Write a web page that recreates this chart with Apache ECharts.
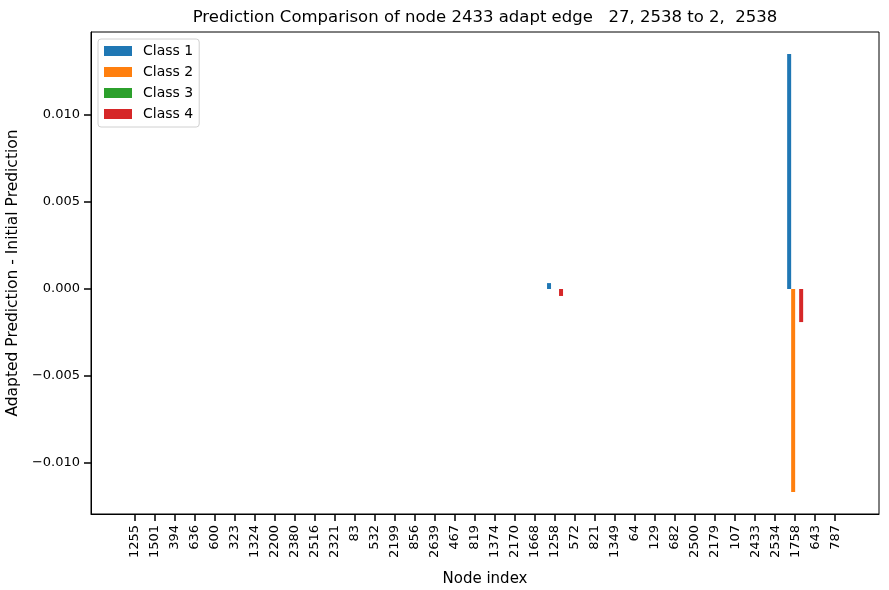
<!DOCTYPE html>
<html>
<head>
<meta charset="utf-8">
<script src="https://cdn.jsdelivr.net/npm/echarts@6/dist/echarts.min.js"></script>
<style>
  html, body { margin: 0; padding: 0; background: #fff; }
  #chart { width: 889px; height: 590px; }
</style>
</head>
<body>
<div id="chart"></div>
<script>
var nodes = ['1255','1501','394','636','600','323','1324','2200','2380','2516','2321','83','532','2199','856','2639','467','819','1374','2170','1668','1258','572','821','1349','64','129','682','2500','2179','107','2433','2534','1758','643','787'];

// only two nodes move, all others are zero
var class1 = [0,0,0,0,0,0,0,0,0,0,0,0,0,0,0,0,0,0,0,0,0,0.00034,0,0,0,0,0,0,0,0,0,0,0,0.01351,0,0];
var class2 = [0,0,0,0,0,0,0,0,0,0,0,0,0,0,0,0,0,0,0,0,0,0,0,0,0,0,0,0,0,0,0,0,0,-0.01167,0,0];
var class3 = [0,0,0,0,0,0,0,0,0,0,0,0,0,0,0,0,0,0,0,0,0,0,0,0,0,0,0,0,0,0,0,0,0,0,0,0];
var class4 = [0,0,0,0,0,0,0,0,0,0,0,0,0,0,0,0,0,0,0,0,0,-0.0004,0,0,0,0,0,0,0,0,0,0,0,-0.0019,0,0];

var yTicks = [-0.01, -0.005, 0, 0.005, 0.01];
var names = ['Class 1','Class 2','Class 3','Class 4'];
var colors = ['#1f77b4','#ff7f0e','#2ca02c','#d62728'];
var offsets = [-0.3, -0.1, 0.1, 0.3];
var values = [class1, class2, class3, class4];

var xIdx = nodes.map(function(n, i){ return i; });

var chart = echarts.init(document.getElementById('chart'));

var series = [];
for (var k = 0; k < 4; k++) {
  series.push({
    name: names[k],
    type: 'bar',
    barWidth: 4,
    barGap: '-100%',
    itemStyle: { color: colors[k] },
    data: values[k].map(function(v, i){ return [i + offsets[k], v]; })
  });
}

var option = {
  animation: false,
  backgroundColor: '#fff',
  textStyle: { fontFamily: 'DejaVu Sans' },
  title: {
    text: 'Prediction Comparison of node 2433 adapt edge   27, 2538 to 2,  2538',
    left: 485, top: 9, padding: 0, textAlign: 'center',
    textStyle: { fontFamily: 'DejaVu Sans', fontSize: 16.5, fontWeight: 'normal', color: '#000' }
  },
  legend: {
    data: names, orient: 'vertical', left: 98, top: 39,
    itemWidth: 28, itemHeight: 10, itemGap: 5, padding: [4, 6, 5, 6],
    borderColor: '#d0d0d0', borderWidth: 1, borderRadius: 3,
    icon: 'rect',
    textStyle: { fontFamily: 'DejaVu Sans', fontSize: 14, lineHeight: 16, color: '#000', padding: [0, 0, 0, 6] }
  },
  grid: {
    left: 91, right: 10, top: 32, bottom: 76,
    outerBoundsMode: 'none',
    show: true, borderColor: '#000', borderWidth: 1
  },
  xAxis: {
    type: 'value', min: -2.19, max: 37.19,
    name: 'Node index', nameLocation: 'middle', nameGap: 58,
    nameTextStyle: { fontSize: 15, color: '#000' },
    axisLine: { show: true, onZero: false, lineStyle: { color: '#000' } },
    splitLine: { show: false },
    axisTick: { show: true, inside: false, length: 7, lineStyle: { color: '#000', width: 1.5 }, customValues: xIdx },
    axisLabel: { customValues: xIdx, rotate: 90, margin: 11, fontSize: 13, color: '#000',
      formatter: function(v){ return nodes[Math.round(v)]; } }
  },
  yAxis: {
    type: 'value', min: -0.01293, max: 0.01477,
    name: 'Adapted Prediction - Initial Prediction', nameLocation: 'middle', nameGap: 68,
    nameTextStyle: { fontSize: 15.5, color: '#000' },
    axisLine: { show: true, onZero: false, lineStyle: { color: '#000' } },
    splitLine: { show: false },
    axisTick: { show: true, inside: false, length: 7, lineStyle: { color: '#000', width: 1.5 }, customValues: yTicks },
    axisLabel: { customValues: yTicks, margin: 11, fontSize: 13, color: '#000',
      formatter: function(v){ return v.toFixed(3).replace('-', '\u2212'); } }
  },
  series: series
};
chart.setOption(option);
</script>
</body>
</html>
